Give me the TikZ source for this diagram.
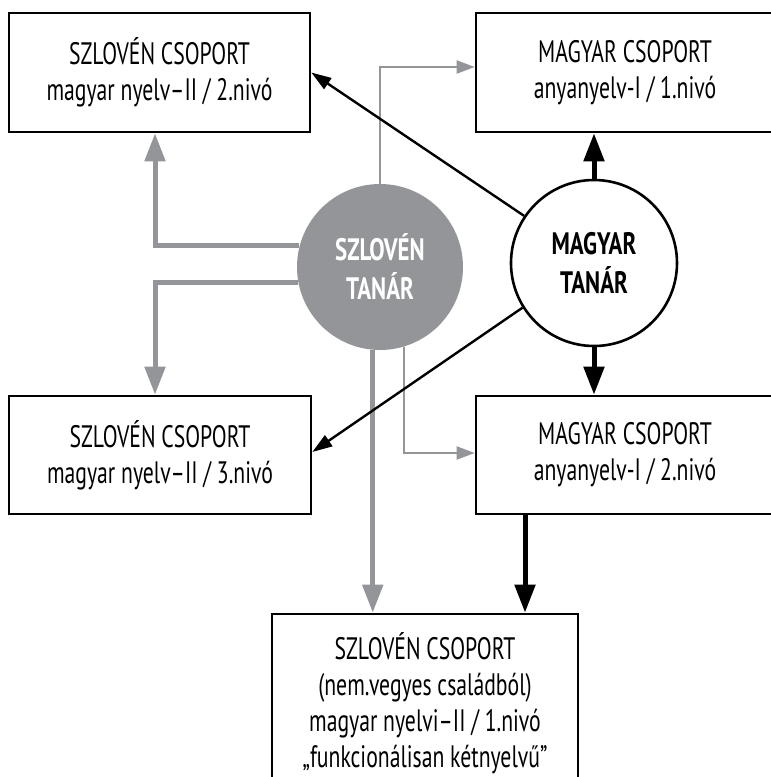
\documentclass[tikz,border=0pt]{standalone}
\usepackage{fontspec}
\setmainfont[FakeStretch=0.70,BoldFeatures={FakeStretch=0.74}]{PT Sans}
\usetikzlibrary{arrows.meta}
\definecolor{slgray}{RGB}{147,149,152}

\begin{document}
\begin{tikzpicture}[x=0.5pt,y=-0.5pt,
    grp/.style={draw,line width=1.3pt,fill=white,minimum width=150.5pt,minimum height=59.5pt,
        align=center,inner sep=0pt,font=\fontsize{15.5}{18}\selectfont},
    tanar/.style={circle,minimum size=83pt,inner sep=0pt,align=center,
        font=\fontsize{15.5}{19.5}\selectfont\bfseries},
    grayfat/.style={slgray,line width=2.5pt,-{Triangle[length=14pt,width=10pt]}},
    graythin/.style={slgray,line width=1pt,-{Triangle[length=9pt,width=6.5pt]}},
    blackfat/.style={line width=2.5pt,-{Triangle[length=14pt,width=10pt]}},
    blackthin/.style={line width=1.2pt,-{Triangle[length=10pt,width=6.5pt]}}]

    \useasboundingbox (0,0) rectangle (771,777);
    \clip (0,0) rectangle (771,777);

    % Groups
    \node [grp] (s2) at (159.5,72.5) {SZLOVÉN CSOPORT\\magyar nyelv–II / 2.nivó};
    \node [grp,minimum width=149pt] (m1) at (625,72.5) {MAGYAR CSOPORT\\anyanyelv-I / 1.nivó};
    \node [grp,minimum width=151pt,minimum height=59pt] (s3) at (160,455) {SZLOVÉN CSOPORT\\magyar nyelv–II / 3.nivó};
    \node [grp,minimum width=149pt,minimum height=59pt] (m2) at (625,455) {MAGYAR CSOPORT\\anyanyelv-I / 2.nivó};
    \node [grp,minimum width=153pt,minimum height=89pt] (s1) at (425,703)
        {SZLOVÉN CSOPORT\\(nem.vegyes családból)\\magyar nyelvi–II / 1.nivó\\„funkcionálisan kétnyelvű”};

    % Teachers
    \node [tanar,fill=slgray,text=white] (szt) at (380,267) {SZLOVÉN\\TANÁR};
    \node [tanar,draw,line width=1.3pt,fill=white] (mgt) at (594,263) {MAGYAR\\TANÁR};

    % Slovene teacher
    \draw [grayfat] (szt.165) -| ([xshift=-2.25pt]s2.south);
    \draw [grayfat] (szt.191) -| ([xshift=-2.5pt]s3.north);
    \draw [grayfat] (szt.-95) -- (szt.-95 |- s1.north);
    \draw [graythin] (szt.north) |- ([yshift=2.75pt]m1.west);
    \draw [graythin] (szt.-73) |- ([yshift=1pt]m2.west);

    % Hungarian teacher
    \draw [blackfat] (mgt.north) -- (mgt.north |- m1.south);
    \draw [blackfat] (mgt.south) -- (mgt.south |- m2.north);
    \draw [blackfat] ([xshift=-50pt]m2.south) -- ([xshift=-50pt]m2.south |- s1.north);
    \draw [blackthin] (mgt.146) -- (s2.east);
    \draw [blackthin] (mgt.212) -- ([yshift=1.5pt]s3.east);

\end{tikzpicture}
\end{document}
